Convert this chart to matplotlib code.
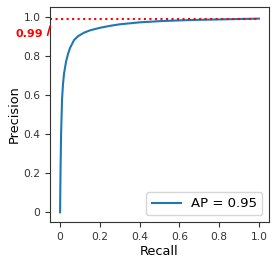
import matplotlib
matplotlib.use("Agg")
import matplotlib.pyplot as plt

recall = [0, 0.0, 0.002, 0.005, 0.01, 0.015, 0.02, 0.03, 0.04, 0.05, 0.07, 0.09, 0.12,
          0.15, 0.2, 0.25, 0.3, 0.4, 0.5, 0.6, 0.7, 0.8, 0.9, 1.0]
precision = [0.0, 0.0, 0.2, 0.40, 0.58, 0.66, 0.71, 0.77, 0.81, 0.84, 0.88, 0.90, 0.918,
             0.93, 0.943, 0.953, 0.961, 0.971, 0.977, 0.981, 0.984, 0.986, 0.988, 0.99]
ap = 0.95
max_p = 0.99
xticks = [0, 0.2, 0.4, 0.6, 0.8, 1.0]
xticklabels = ["0", "0.2", "0.4", "0.6", "0.8", "1.0"]
yticks = [0, 0.2, 0.4, 0.6, 0.8, 1.0]
yticklabels = ["0", "0.2", "0.4", "0.6", "0.8", "1.0"]

fig = plt.figure(figsize=(2.77, 2.65), dpi=100)
ax = fig.add_axes([0.181, 0.162, 0.79, 0.812])
ax.plot(recall, precision, color="#1f77b4", lw=1.5, label=f"AP = {ap}")
ax.set_xlim(-0.05, 1.05)
ax.set_ylim(-0.05, 1.05)
ax.plot([-0.05, 1.0], [max_p, max_p], color="red", ls=":", lw=1.5)
ax.set_xticks(xticks)
ax.set_xticklabels(xticklabels)
ax.set_yticks(yticks)
ax.set_yticklabels(yticklabels)
ax.tick_params(labelsize=7.7, length=3.5, colors="#333333", labelcolor="#333333")
ax.set_xlabel("Recall", fontsize=9.3, labelpad=2)
ax.set_ylabel("Precision", fontsize=9.3, labelpad=2)
ax.text(-0.085, 0.913, f"{max_p}", color="red", fontsize=8, fontweight="bold",
        ha="right", va="center", clip_on=False)
ax.annotate("", xy=(-0.05, 0.952), xytext=(-0.063, 0.905), annotation_clip=False,
            arrowprops=dict(arrowstyle="-", color="red", lw=1.2, shrinkA=0, shrinkB=0))
for s in ax.spines.values():
    s.set_color("#333333")
ax.legend(loc="lower right", fontsize=9.5, handlelength=2.2, borderpad=0.4)
fig.savefig("out.png", dpi=100)
